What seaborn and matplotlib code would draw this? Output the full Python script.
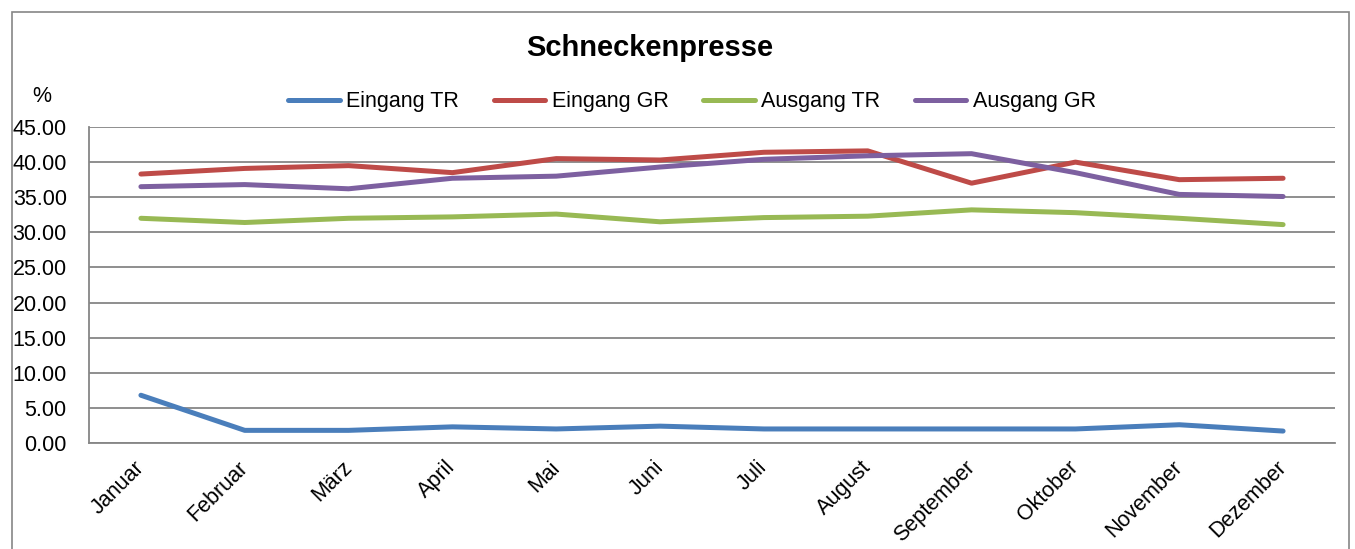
import matplotlib
matplotlib.use("Agg")
import matplotlib.pyplot as plt
import seaborn as sns
import pandas as pd
import numpy as np
from matplotlib.patches import Rectangle
from matplotlib.lines import Line2D

months = ["Januar", "Februar", "März", "April", "Mai", "Juni", "Juli",
          "August", "September", "Oktober", "November", "Dezember"]
eingang_tr = [6.8, 1.8, 1.8, 2.3, 2.0, 2.4, 2.0, 2.0, 2.0, 2.0, 2.6, 1.7]
eingang_gr = [38.3, 39.1, 39.5, 38.5, 40.5, 40.3, 41.4, 41.6, 37.0, 40.0, 37.5, 37.7]
ausgang_tr = [32.0, 31.4, 32.0, 32.2, 32.6, 31.5, 32.1, 32.3, 33.2, 32.8, 32.0, 31.1]
ausgang_gr = [36.5, 36.8, 36.2, 37.7, 38.0, 39.3, 40.4, 40.9, 41.2, 38.5, 35.4, 35.1]
series_names = ["Eingang TR", "Eingang GR", "Ausgang TR", "Ausgang GR"]
colors = ["#4A7EBB", "#BE4B48", "#98B954", "#7D60A0"]
yticks = [0, 5, 10, 15, 20, 25, 30, 35, 40, 45]

rows = []
for name, vals in zip(series_names, [eingang_tr, eingang_gr, ausgang_tr, ausgang_gr]):
    for i, (m, v) in enumerate(zip(months, vals)):
        rows.append({"idx": i, "Monat": m, "Wert": v, "Serie": name})
df = pd.DataFrame(rows)

sns.set_theme(style="white")
plt.rcParams['font.family'] = ['Liberation Sans', 'DejaVu Sans']
plt.rcParams['text.color'] = 'black'
plt.rcParams['xtick.color'] = 'black'
plt.rcParams['ytick.color'] = 'black'
plt.rcParams['xtick.labelcolor'] = 'black'
plt.rcParams['ytick.labelcolor'] = 'black'

fig = plt.figure(figsize=(13.55, 5.49), dpi=100)
ax = fig.add_axes([89/1355, 1-443/549, (1335-89)/1355, (443-127)/549])

sns.lineplot(data=df, x="idx", y="Wert", hue="Serie", hue_order=series_names,
             palette=colors, linewidth=3.6, ax=ax, legend=False,
             solid_capstyle="round")

ax.set_xlim(-0.5, 11.5)
ax.set_ylim(0, 45)
ax.set_yticks(yticks)
ax.set_yticklabels([f"{v:.2f}" for v in yticks], fontsize=15.5)
ax.yaxis.grid(True, color="#868686", linewidth=1.3)
ax.set_axisbelow(True)

# boundary ticks (major) and label positions (minor, nudged slightly left)
ax.set_xticks(np.arange(-0.5, 12, 1))
ax.set_xticklabels([])
ax.set_xticks(np.arange(12) - 0.07, minor=True)
ax.set_xticklabels(months, minor=True, rotation=45, ha="right",
                   rotation_mode="anchor", fontsize=15.5)
ax.tick_params(axis="x", which="major", direction="out", length=6,
               color="#868686", width=1.2)
ax.tick_params(axis="x", which="minor", length=0, pad=10)
ax.tick_params(axis="y", direction="out", length=5, color="#868686",
               width=1.2, pad=11)
ax.set_xlabel("")
ax.set_ylabel("")
for s in ["top", "right"]:
    ax.spines[s].set_visible(False)
for s in ["left", "bottom"]:
    ax.spines[s].set_color("#868686")
    ax.spines[s].set_linewidth(1.3)

fig.text(650/1355, 1-48/549, "Schneckenpresse", ha="center", va="center",
         fontsize=21, fontweight="bold", color="black")
fig.text(42/1355, 1-97/549, "%", ha="center", va="center", fontsize=15.5,
         color="black")

handles = [Line2D([0], [0], color=c, linewidth=3.6, solid_capstyle="round")
           for c in colors]
fig.legend(handles, series_names, loc="center", ncol=4,
           bbox_to_anchor=(692/1355, 1-102/549), frameon=False,
           fontsize=15.5, handlelength=2.4, handletextpad=0.3,
           columnspacing=1.6, labelcolor="black")

fig.patches.append(Rectangle((12/1355, -0.02), (1349-12)/1355, 1-12/549+0.02,
                             transform=fig.transFigure, fill=False,
                             edgecolor="#868686", linewidth=1.2))

fig.savefig("out.png", dpi=100)
